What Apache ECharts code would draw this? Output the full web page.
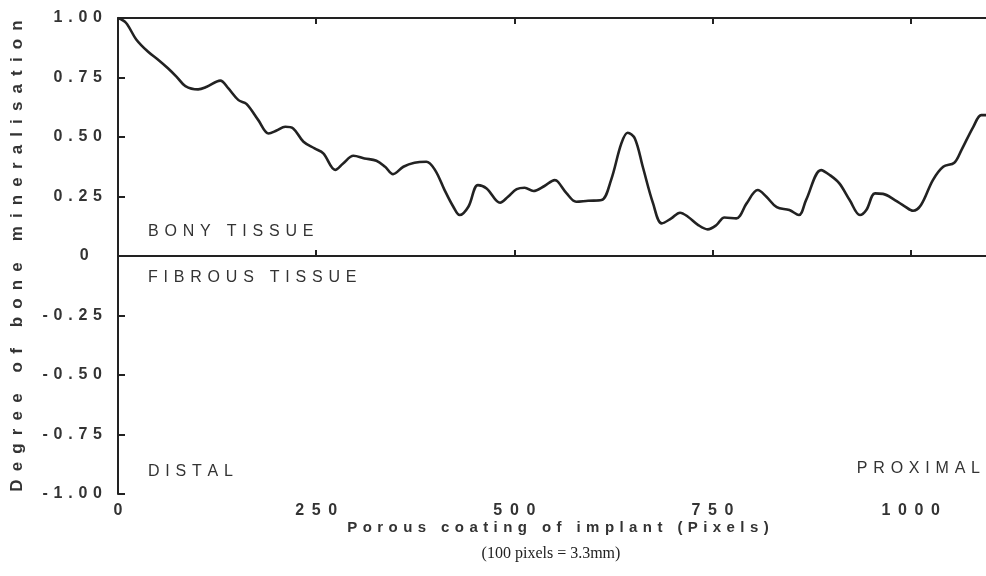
<!DOCTYPE html>
<html>
<head>
<meta charset="utf-8">
<style>
  html, body { margin: 0; padding: 0; background: #fff; }
  #chart { width: 986px; height: 576px; }
</style>
<script src="https://cdn.jsdelivr.net/npm/echarts@6/dist/echarts.min.js"></script>
</head>
<body>
<div id="chart"></div>
<script>
// 讀圖估計的數值
var pixelPos = [0, 10, 23, 38, 51, 63, 74, 85, 101, 112, 129, 139, 152, 162, 177, 190, 200, 211, 221, 234,
    248, 259, 274, 284, 297, 311, 326, 337, 347, 360, 374, 389, 400, 412, 423, 431, 442, 454, 465, 482,
    492, 503, 513, 524, 538, 551, 555, 566, 578, 593, 610, 622, 635, 643, 652, 662, 675, 686, 698, 709,
    719, 732, 744, 755, 765, 780, 793, 807, 818, 831, 847, 859, 868, 887, 898, 910, 923, 936, 944, 955,
    965, 980, 992, 1003, 1013, 1028, 1041, 1055, 1064, 1079, 1089, 1095];
var mineralisation = [1.00, 0.98, 0.91, 0.858, 0.824, 0.789, 0.753, 0.714, 0.700, 0.711, 0.737, 0.705, 0.655, 0.639, 0.571, 0.515, 0.527, 0.543, 0.536, 0.480,
    0.452, 0.431, 0.362, 0.389, 0.421, 0.410, 0.400, 0.375, 0.344, 0.375, 0.392, 0.396, 0.361, 0.277, 0.207, 0.172, 0.207, 0.298, 0.284, 0.224,
    0.249, 0.281, 0.287, 0.273, 0.294, 0.319, 0.312, 0.263, 0.228, 0.232, 0.235, 0.319, 0.473, 0.518, 0.494, 0.375, 0.221, 0.137, 0.158, 0.182,
    0.165, 0.130, 0.112, 0.130, 0.162, 0.158, 0.221, 0.277, 0.249, 0.205, 0.193, 0.172, 0.235, 0.361, 0.340, 0.305, 0.235, 0.172, 0.193, 0.263,
    0.261, 0.235, 0.210, 0.190, 0.214, 0.319, 0.375, 0.392, 0.445, 0.543, 0.592, 0.592];
var xTicks = [0, 250, 500, 750, 1000];
var yTicks = [-1, -0.75, -0.5, -0.25, 0, 0.25, 0.5, 0.75, 1];

// 字距拉開 (模擬原圖字體)
function spaced(s, gap) {
    return s.split('').join(gap || ' \u200a');
}

var chart = echarts.init(document.getElementById('chart'));

var lineData = pixelPos.map(function (x, i) { return [x, mineralisation[i]]; });

var labelFont = { color: '#333', fontFamily: 'Liberation Sans', fontSize: 16, fontWeight: 'bold' };
var noteFont = '16px "Liberation Sans"';

var option = {
    animation: false,
    grid: { left: 118, top: 18, right: 0, bottom: 82 },
    xAxis: [
        {
            type: 'value', min: 0, max: 1095,
            axisLine: { show: true, lineStyle: { color: '#222', width: 2 } },
            axisTick: { show: true, inside: true, length: 6, customValues: xTicks, lineStyle: { color: '#222', width: 2 } },
            axisLabel: Object.assign({ customValues: xTicks, margin: 9, formatter: function (v) { return spaced(String(v), ' \u2009'); } }, labelFont),
            splitLine: { show: false }
        },
        {
            type: 'value', min: 0, max: 1095, position: 'top',
            axisLine: { show: true, lineStyle: { color: '#222', width: 2 } },
            axisTick: { show: true, inside: true, length: 6, customValues: xTicks, lineStyle: { color: '#222', width: 2 } },
            axisLabel: { show: false },
            splitLine: { show: false }
        }
    ],
    yAxis: {
        type: 'value', min: -1, max: 1, interval: 0.25,
        axisLine: { show: true, lineStyle: { color: '#222', width: 2 } },
        axisTick: { show: true, inside: true, length: 7, lineStyle: { color: '#222', width: 2 } },
        axisLabel: Object.assign({
            margin: 16,
            formatter: function (v) {
                if (v === 0) return '0   ';
                return spaced((v < 0 ? '-' : '') + Math.abs(v).toFixed(2));
            }
        }, labelFont),
        splitLine: { show: false }
    },
    series: [{
        type: 'line',
        data: lineData,
        smooth: 0.35,
        showSymbol: false,
        lineStyle: { color: '#222', width: 2.6 },
        markLine: {
            silent: true,
            symbol: 'none',
            label: { show: false },
            lineStyle: { color: '#222', width: 2, type: 'solid' },
            data: [{ yAxis: 0 }]
        }
    }],
    graphic: [
        { type: 'text', x: 148, y: 232, style: { text: spaced('BONY TISSUE'), align: 'left', verticalAlign: 'middle', font: noteFont, fill: '#333' } },
        { type: 'text', x: 148, y: 278, style: { text: spaced('FIBROUS TISSUE'), align: 'left', verticalAlign: 'middle', font: noteFont, fill: '#333' } },
        { type: 'text', x: 148, y: 472, style: { text: spaced('DISTAL'), align: 'left', verticalAlign: 'middle', font: noteFont, fill: '#333' } },
        { type: 'text', x: 980, y: 469, style: { text: spaced('PROXIMAL'), align: 'right', verticalAlign: 'middle', font: noteFont, fill: '#333' } },
        { type: 'text', x: 558, y: 528, style: { text: spaced('Porous coating of implant (Pixels)', ' \u200a'), align: 'center', verticalAlign: 'middle', font: 'bold 15px "Liberation Sans"', fill: '#333' } },
        { type: 'text', x: 551, y: 554, style: { text: '(100 pixels = 3.3mm)', align: 'center', verticalAlign: 'middle', font: '16px "Liberation Serif"', fill: '#222' } },
        { type: 'text', x: 17, y: 256, rotation: Math.PI / 2, style: { text: spaced('Degree of bone mineralisation', ' \u2009'), align: 'center', verticalAlign: 'middle', font: 'bold 17px "Liberation Sans"', fill: '#333' } }
    ]
};

chart.setOption(option);
</script>
</body>
</html>
